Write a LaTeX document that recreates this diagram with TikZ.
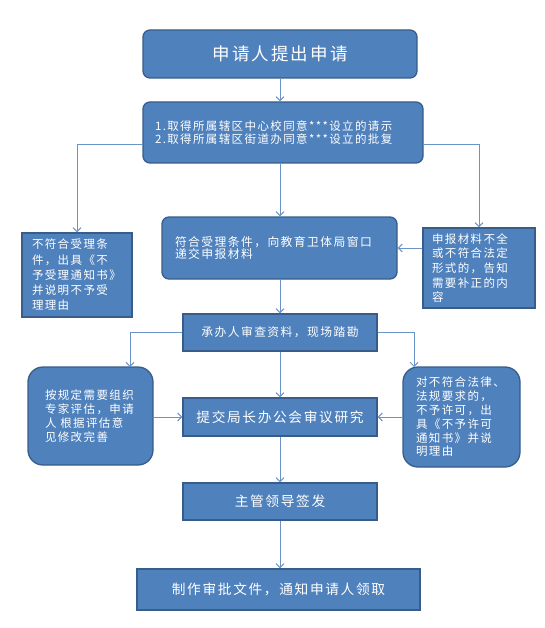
\documentclass[tikz,border=0pt]{standalone}
\usepackage{fontspec}
\setmainfont{Noto Sans CJK SC}[LetterSpace=12]
\usetikzlibrary{arrows.meta}
\definecolor{boxfill}{HTML}{4F81BD}
\definecolor{boxline}{HTML}{385D8A}
\definecolor{conn}{HTML}{6A93C8}
\tikzset{
  box/.style={draw=boxline, fill=boxfill, line width=1.3pt, text=white, inner ysep=0pt},
  rbox/.style={box, rounded corners=7pt},
  arr/.style={draw=conn, line width=1pt, -{Straight Barb[length=4pt,width=8pt]}},
}
\begin{document}
\begin{tikzpicture}[x=1pt,y=-1pt]
\useasboundingbox (0,0) rectangle (544,628);
% boxes
\node[rbox, minimum width=274pt, minimum height=48pt, font=\fontsize{17.5}{20}\selectfont] (title) at (280,54) {申请人提出申请};
\node[rbox, minimum width=280pt, minimum height=61pt, inner xsep=12pt, text width=256pt, align=left, font=\fontsize{11.5}{12.5}\selectfont] (b2) at (283,132.5) {1.取得所属辖区中心校同意***设立的请示\\2.取得所属辖区街道办同意***设立的批复};
\node[box, minimum width=110pt, minimum height=84pt, inner xsep=10pt, text width=90pt, align=left, font=\fontsize{11.5}{15.2}\selectfont] (b3) at (77,275) {不符合受理条\\件，出具《不\\予受理通知书》\\并说明不予受\\理理由};
\node[rbox, minimum width=235pt, minimum height=62pt, inner xsep=13pt, text width=209pt, align=left, font=\fontsize{11.8}{12.5}\selectfont] (b4) at (279.5,248) {符合受理条件，向教育卫体局窗口\\递交申报材料};
\node[box, minimum width=112pt, minimum height=80pt, inner xsep=9pt, text width=94pt, align=left, font=\fontsize{11.5}{14.6}\selectfont] (b5) at (479,268) {申报材料不全\\或不符合法定\\形式的，告知\\需要补正的内\\容};
\node[box, minimum width=194pt, minimum height=37pt, font=\fontsize{11.8}{14}\selectfont] (b6) at (280,332.5) {承办人审查资料，现场踏勘};
\node[rbox, rounded corners=15pt, minimum width=125pt, minimum height=98pt, inner xsep=17pt, text width=91pt, align=left, font=\fontsize{11.5}{14}\selectfont] (b7) at (90.5,416) {按规定需要组织\\专家评估，申请\\人 根据评估意\\见修改完善};
\node[rbox, rounded corners=15pt, minimum width=117pt, minimum height=100pt, inner xsep=13pt, text width=91pt, align=left, font=\fontsize{11.5}{13.8}\selectfont] (b8) at (461.5,417) {对不符合法律、\\法规要求的，\\不予许可，出\\具《不予许可\\通知书》并说\\明理由};
\node[box, minimum width=194pt, minimum height=38pt, font=\fontsize{13.7}{16}\selectfont] (b9) at (280,417) {提交局长办公会审议研究};
\node[box, minimum width=194pt, minimum height=37pt, font=\fontsize{13.7}{16}\selectfont] (b10) at (280,501.5) {主管领导签发};
\node[box, minimum width=283pt, minimum height=41pt, font=\fontsize{13.7}{16}\selectfont] (b11) at (278.5,589.5) {制作审批文件，通知申请人领取};
% helper coordinates
\coordinate (b2l) at (143,145);
\coordinate (b2r) at (423,145);
\coordinate (b7in) at (130,367);
\coordinate (b8in) at (414,367);
% connectors
\draw[arr] (title.south) -- (title.south |- b2.north);
\draw[arr] (b2l) -| (b3.north);
\draw[arr] (b2r) -| (b5.north);
\draw[arr] (b2.south -| title.south) -- (b4.north -| title.south);
\draw[arr] (b5.west |- b4.east) -- (b4.east);
\draw[arr] (b4.south -| b6.north) -- (b6.north);
\draw[arr] (b6.west) -| (b7in);
\draw[arr] (b6.east) -| (b8in);
\draw[arr] (b6.south) -- (b9.north);
\draw[arr] (b7.east |- b9.west) -- (b9.west);
\draw[arr] (b8.west |- b9.east) -- (b9.east);
\draw[arr] (b9.south) -- (b10.north);
\draw[arr] (b10.south) -- (b11.north -| b10.south);
\end{tikzpicture}
\end{document}
